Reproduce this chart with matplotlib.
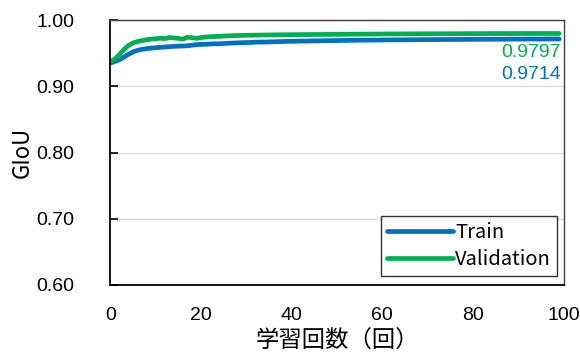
import matplotlib
matplotlib.use("Agg")
import matplotlib.pyplot as plt

# values
epochs = list(range(100))

train = [
    0.9350, 0.9372, 0.9400, 0.9440, 0.9482, 0.9518, 0.9542, 0.9558, 0.9568, 0.9576,
    0.9582, 0.9588, 0.9592, 0.9598, 0.9602, 0.9606, 0.9608, 0.9612, 0.9620, 0.9628,
    0.9632, 0.9634, 0.9638, 0.9642, 0.9640, 0.9646, 0.9650, 0.9652, 0.9656, 0.9658,
    0.9660, 0.9662, 0.9666, 0.9668, 0.9668, 0.9670, 0.9672, 0.9674, 0.9676, 0.9678,
    0.9678, 0.9680, 0.9682, 0.9682, 0.9684, 0.9686, 0.9686, 0.9688, 0.9688, 0.9690,
    0.9690, 0.9692, 0.9692, 0.9694, 0.9694, 0.9696, 0.9696, 0.9697, 0.9698, 0.9698,
    0.9699, 0.9700, 0.9700, 0.9701, 0.9701, 0.9702, 0.9702, 0.9703, 0.9703, 0.9704,
    0.9704, 0.9705, 0.9705, 0.9706, 0.9706, 0.9707, 0.9707, 0.9708, 0.9708, 0.9708,
    0.9709, 0.9709, 0.9710, 0.9710, 0.9710, 0.9711, 0.9711, 0.9711, 0.9712, 0.9712,
    0.9712, 0.9712, 0.9713, 0.9713, 0.9713, 0.9713, 0.9714, 0.9714, 0.9714, 0.9714,
]

valid = [
    0.9370, 0.9410, 0.9475, 0.9555, 0.9615, 0.9652, 0.9675, 0.9690, 0.9702, 0.9712,
    0.9718, 0.9726, 0.9720, 0.9736, 0.9730, 0.9724, 0.9712, 0.9740, 0.9734, 0.9724,
    0.9734, 0.9744, 0.9748, 0.9752, 0.9754, 0.9758, 0.9762, 0.9764, 0.9766, 0.9768,
    0.9770, 0.9771, 0.9772, 0.9773, 0.9774, 0.9775, 0.9776, 0.9777, 0.9778, 0.9778,
    0.9779, 0.9780, 0.9780, 0.9781, 0.9781, 0.9782, 0.9782, 0.9783, 0.9783, 0.9784,
    0.9784, 0.9785, 0.9785, 0.9786, 0.9786, 0.9787, 0.9787, 0.9788, 0.9788, 0.9789,
    0.9789, 0.9790, 0.9790, 0.9790, 0.9791, 0.9791, 0.9791, 0.9792, 0.9792, 0.9792,
    0.9793, 0.9793, 0.9793, 0.9793, 0.9794, 0.9794, 0.9794, 0.9794, 0.9795, 0.9795,
    0.9795, 0.9795, 0.9795, 0.9796, 0.9796, 0.9796, 0.9796, 0.9796, 0.9796, 0.9797,
    0.9797, 0.9797, 0.9797, 0.9797, 0.9797, 0.9797, 0.9797, 0.9797, 0.9797, 0.9797,
]

yticks = [0.60, 0.70, 0.80, 0.90, 1.00]
xticks = [0, 20, 40, 60, 80, 100]

blue = "#0070C0"
green = "#00B050"
tickfont = "Liberation Sans"
jpfont = ["Noto Sans CJK JP", "DejaVu Sans"]

fig = plt.figure(figsize=(5.8, 3.58), dpi=100)
ax = fig.add_axes([0.19, 0.204, 0.782, 0.740])

ax.plot(epochs, train, color=blue, lw=3.4, label="Train", solid_capstyle="round")
ax.plot(epochs, valid, color=green, lw=3.4, label="Validation", solid_capstyle="round")

ax.set_xlim(0, 100)
ax.set_ylim(0.6, 1.0)
ax.set_yticks(yticks)
ax.set_yticklabels(["%.2f" % v for v in yticks], fontsize=14, family=tickfont)
ax.set_xticks(xticks)
ax.set_xticklabels([str(v) for v in xticks], fontsize=14, family=tickfont)
ax.tick_params(axis="x", length=0, pad=16)
ax.tick_params(axis="y", direction="in", length=6, width=1.2, pad=26)
ax.yaxis.grid(True, color="#d9d9d9", lw=1)
ax.set_axisbelow(True)

for s in ["left", "bottom"]:
    ax.spines[s].set_linewidth(1.3)
    ax.spines[s].set_color("black")
for s in ["top", "right"]:
    ax.spines[s].set_linewidth(1.0)
    ax.spines[s].set_color("#404040")

ax.set_ylabel("GIoU", fontsize=16, family=jpfont)
ax.yaxis.set_label_coords(-0.168, 0.5)
ax.set_xlabel("学習回数（回）", fontsize=16.8, family=jpfont, labelpad=4)

ax.text(99.3, valid[-1] - 0.028, "%.4f" % valid[-1], color=green, ha="right",
        va="center", fontsize=14, family=tickfont)
ax.text(99.3, train[-1] - 0.054, "%.4f" % train[-1], color=blue, ha="right",
        va="center", fontsize=14, family=tickfont)

leg = ax.legend(loc="lower right", bbox_to_anchor=(0.985, 0.034),
                prop={"family": jpfont, "size": 14.5},
                frameon=True, fancybox=False, edgecolor="black",
                handlelength=3.3, handletextpad=0.1, borderaxespad=0.0,
                labelspacing=0.28, borderpad=0.3)
leg.get_frame().set_linewidth(1.0)
for h in leg.get_lines():
    h.set_linewidth(3.4)

fig.savefig("out.png", dpi=100)
